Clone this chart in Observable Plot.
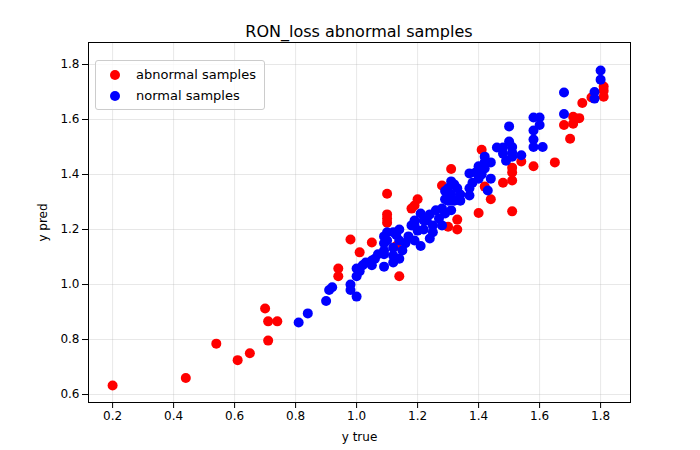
<!DOCTYPE html>
<html><head><meta charset="utf-8">
<script src="https://cdn.jsdelivr.net/npm/d3@7"></script>
<script src="https://cdn.jsdelivr.net/npm/@observablehq/plot@0.6"></script>
<style>
body{margin:0;background:#fff;font-family:"DejaVu Sans",sans-serif}
#wrap{position:relative;width:700px;height:450px}
#title{position:absolute;top:22px;left:88px;width:542px;text-align:center;font-size:16px}
#legend{position:absolute;left:95px;top:60px;border:1px solid #ccc;border-radius:3px;background:rgba(255,255,255,.8);padding:3px 8px 3px 8px;font-size:13px;line-height:21px}
#legend span.d{display:inline-block;width:10px;height:10px;border-radius:50%;margin:0 16px 0 6px;vertical-align:-1px}
</style></head><body>
<div id="wrap"><div id="chart"></div>
<div id="title">RON_loss abnormal samples</div>
<div id="legend"><div><span class="d" style="background:red"></span>abnormal samples</div><div><span class="d" style="background:blue"></span>normal samples</div></div>
</div>
<script>
// abnormal samples
const abnX = [0.2,0.44,0.54,0.61,0.65,0.70,0.71,0.71,0.74,0.94,0.94,0.98,1.01,1.05,1.10,1.10,1.10,1.10,1.14,1.13,1.18,1.19,1.20,1.28,1.31,1.30,1.33,1.33,1.40,1.41,1.44,1.42,1.51,1.51,1.51,1.48,1.51,1.54,1.58,1.65,1.70,1.68,1.71,1.71,1.73,1.74,1.77,1.81,1.81,1.81];
const abnY = [0.633,0.66,0.785,0.725,0.75,0.913,0.866,0.796,0.866,1.058,1.03,1.164,1.117,1.153,1.33,1.255,1.24,1.225,1.03,1.14,1.276,1.287,1.31,1.36,1.42,1.21,1.20,1.236,1.26,1.49,1.31,1.356,1.378,1.407,1.266,1.37,1.425,1.447,1.43,1.444,1.53,1.58,1.585,1.61,1.605,1.66,1.68,1.683,1.72,1.705];
// normal samples
const norX = [0.81,0.84,0.90,0.91,0.92,0.98,0.98,1.0,1.0,1.0,1.02,1.01,1.03,1.05,1.05,1.06,1.07,1.09,1.09,1.09,1.09,1.09,1.10,1.10,1.12,1.12,1.12,1.13,1.14,1.14,1.14,1.15,1.12,1.16,1.17,1.18,1.19,1.19,1.19,1.20,1.21,1.21,1.22,1.22,1.23,1.24,1.24,1.25,1.25,1.26,1.27,1.28,1.28,1.29,1.29,1.29,1.30,1.30,1.31,1.31,1.31,1.32,1.32,1.33,1.34,1.34,1.37,1.37,1.37,1.38,1.39,1.40,1.40,1.41,1.42,1.42,1.42,1.43,1.44,1.44,1.46,1.48,1.48,1.49,1.50,1.50,1.51,1.51,1.51,1.54,1.58,1.58,1.58,1.58,1.60,1.60,1.61,1.68,1.68,1.78,1.78,1.80,1.80];
const norY = [0.862,0.895,0.94,0.98,0.99,1.0,0.98,0.956,1.03,1.058,1.07,1.048,1.08,1.087,1.07,1.094,1.11,1.15,1.065,1.11,1.124,1.175,1.16,1.19,1.19,1.134,1.08,1.18,1.2,1.16,1.094,1.124,1.105,1.15,1.175,1.215,1.233,1.215,1.16,1.196,1.14,1.258,1.233,1.2,1.233,1.167,1.255,1.215,1.19,1.27,1.24,1.215,1.276,1.31,1.34,1.258,1.305,1.35,1.27,1.375,1.327,1.305,1.364,1.35,1.305,1.327,1.324,1.35,1.404,1.37,1.407,1.385,1.43,1.4,1.444,1.465,1.422,1.342,1.385,1.444,1.498,1.498,1.476,1.45,1.575,1.52,1.5,1.48,1.465,1.47,1.607,1.56,1.527,1.5,1.607,1.58,1.5,1.698,1.62,1.70,1.676,1.778,1.745];

const abn = abnX.map((x,i)=>({x, y: abnY[i]}));
const nor = norX.map((x,i)=>({x, y: norY[i]}));

const chart = Plot.plot({
  width: 700, height: 450,
  marginTop: 42, marginLeft: 88, marginRight: 70, marginBottom: 48,
  style: {fontFamily: "DejaVu Sans", fontSize: "12px", color: "black"},
  x: {domain: [0.121, 1.898], ticks: d3.range(0.2, 1.81, 0.2), tickFormat: d3.format(".1f"), label: "y true", labelAnchor: "center", labelArrow: "none", labelOffset: 38},
  y: {domain: [0.571, 1.88], ticks: d3.range(0.6, 1.81, 0.2), tickFormat: d3.format(".1f"), label: "y pred", labelAnchor: "center", labelArrow: "none", labelOffset: 50},
  marks: [
    Plot.gridX({ticks: d3.range(0.2, 1.81, 0.2), stroke: "#b0b0b0", strokeOpacity: 0.3}),
    Plot.gridY({ticks: d3.range(0.6, 1.81, 0.2), stroke: "#b0b0b0", strokeOpacity: 0.3}),
    Plot.dot(abn, {x: "x", y: "y", r: 5, fill: "red"}),
    Plot.dot(nor, {x: "x", y: "y", r: 5, fill: "blue"}),
    Plot.frame({stroke: "black"})
  ]
});
document.getElementById("chart").append(chart);
</script>
</body></html>
